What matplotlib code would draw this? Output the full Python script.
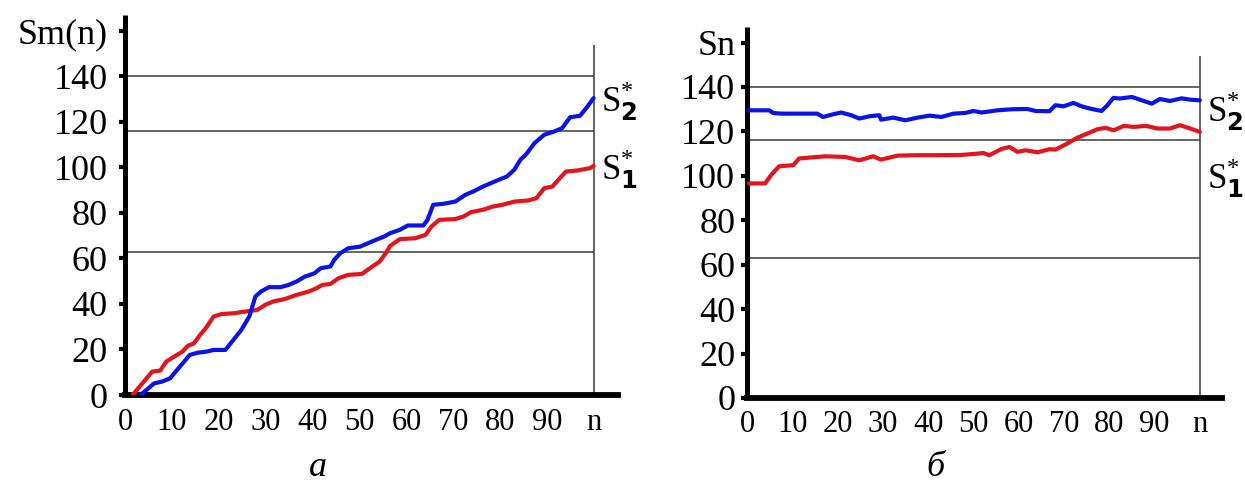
import matplotlib
matplotlib.use("Agg")
import matplotlib.pyplot as plt

plt.rcParams["font.family"] = ["Liberation Serif", "DejaVu Serif"]
plt.rcParams["mathtext.fontset"] = "custom"
plt.rcParams["mathtext.rm"] = "Liberation Serif"
plt.rcParams["mathtext.it"] = "Liberation Serif:italic"
plt.rcParams["mathtext.bf"] = "DejaVu Sans:bold"

# ---- panel (а): cumulative sums Sm(n) ----
a_blue_n = [3.3, 6.2, 7.9, 9.6, 11.7, 13.8, 15.5, 17.2, 18.9, 21.4, 23.1, 24.8, 26.5,
            27.8, 29.0, 30.7, 33.2, 34.9, 36.6, 38.3, 40.4, 41.7, 43.8, 44.6, 45.9,
            47.6, 50.1, 51.8, 53.5, 55.2, 56.5, 58.6, 60.3, 63.6, 64.5, 65.7, 67.8,
            70.4, 72.5, 74.2, 76.3, 78.0, 79.7, 81.4, 83.0, 84.3, 85.6, 87.3, 89.4,
            91.5, 93.2, 94.9, 97.0, 98.6, 99.9]
a_blue_s = [0.0, 5.1, 5.9, 7.3, 12.5, 17.6, 18.6, 19.0, 19.8, 19.8, 24.2, 28.6, 34.5,
            43.3, 45.5, 47.4, 47.4, 48.4, 49.9, 52.0, 53.5, 55.7, 56.5, 59.4, 62.3,
            64.5, 65.2, 66.7, 68.2, 69.6, 71.1, 72.6, 74.5, 74.5, 77.0, 83.6, 84.0,
            85.0, 87.9, 89.4, 91.6, 93.1, 94.6, 96.0, 99.0, 103.4, 106.0, 110.7, 114.4,
            115.8, 117.3, 122.1, 122.7, 126.8, 130.5]

a_red_n = [1.6, 3.7, 5.8, 7.5, 8.8, 10.5, 12.2, 13.4, 14.7, 16.0, 17.2, 18.9, 20.6,
           23.1, 25.7, 28.2, 29.9, 31.6, 34.1, 36.6, 39.2, 40.8, 42.1, 43.8, 45.5,
           47.6, 50.5, 52.2, 54.3, 55.6, 56.5, 58.6, 61.9, 64.1, 65.3, 67.0, 70.4,
           72.1, 73.8, 76.3, 78.4, 80.5, 83.0, 86.0, 87.7, 89.4, 91.1, 92.7, 94.0,
           96.5, 99.1, 99.9]
a_red_s = [0.0, 5.1, 10.3, 10.7, 14.7, 16.9, 19.0, 21.6, 22.7, 26.4, 29.3, 34.5, 35.6,
           35.9, 36.7, 37.4, 39.6, 41.1, 42.2, 44.0, 45.5, 46.9, 48.4, 48.8, 51.3,
           52.8, 53.2, 55.7, 58.7, 62.3, 65.5, 68.5, 68.9, 70.4, 74.0, 77.0, 77.3,
           78.4, 80.4, 81.4, 82.8, 83.6, 85.0, 85.5, 86.5, 90.9, 91.6, 95.3, 98.2,
           98.7, 99.7, 100.7]

# ---- panel (б): statistic Sn ----
b_blue_n = [0.4, 4.9, 5.8, 7.5, 15.5, 16.8, 19.0, 20.8, 23.0, 24.8, 27.0, 29.2, 29.6,
            32.3, 35.0, 37.6, 40.3, 42.9, 45.6, 48.2, 50.0, 51.8, 55.3, 58.8, 61.9,
            63.7, 66.8, 68.1, 69.9, 72.1, 73.9, 75.7, 78.3, 79.6, 80.9, 82.3, 85.0,
            87.2, 89.4, 91.2, 93.4, 96.0, 97.8, 100.0]
b_blue_s = [129.5, 129.5, 128.3, 128.0, 128.0, 126.5, 127.7, 128.5, 127.3, 125.8, 126.8,
            127.3, 125.3, 126.2, 125.0, 126.2, 127.1, 126.5, 128.0, 128.3, 129.2, 128.5,
            129.5, 130.0, 130.1, 129.2, 129.1, 131.8, 131.3, 132.8, 131.3, 130.3, 129.2,
            131.8, 135.1, 134.8, 135.5, 134.0, 132.5, 134.6, 133.7, 134.9, 134.3, 134.0]

b_red_n = [0.4, 4.0, 5.3, 7.1, 10.2, 11.5, 13.7, 17.3, 21.7, 24.8, 27.9, 29.6, 33.2,
           37.6, 42.0, 47.3, 50.9, 52.2, 53.5, 56.2, 58.0, 59.7, 61.5, 64.2, 66.8,
           68.1, 70.4, 73.0, 75.7, 77.4, 79.2, 81.0, 83.2, 85.4, 88.1, 90.7, 93.4,
           95.6, 97.3, 100.0]
b_red_s = [96.6, 96.6, 100.3, 104.3, 104.8, 107.8, 108.2, 108.8, 108.5, 107.0, 108.8,
           107.3, 109.1, 109.3, 109.3, 109.4, 110.0, 110.3, 109.3, 112.1, 113.0, 110.8,
           111.5, 110.6, 112.0, 111.8, 114.2, 117.2, 119.5, 121.0, 121.6, 120.5, 122.5,
           122.0, 122.5, 121.3, 121.3, 122.8, 121.7, 119.8]

ref_levels = [140, 116, 63]
n_end = 100
frame_top = 154
x_ticks = [0, 10, 20, 30, 40, 50, 60, 70, 80, 90]
y_ticks = [0, 20, 40, 60, 80, 100, 120, 140]
s_labels = [r"$\mathrm{S}^{*}_{\mathbf{2}}$", r"$\mathrm{S}^{*}_{\mathbf{1}}$"]
s_label_y = [129, 99]
captions = ["а", "б"]

BLUE = "#0a14e6"
RED = "#e3141c"
GRID = "#4a4a4a"

fig = plt.figure(figsize=(12.45, 5.0), dpi=100)

panels = [
    dict(rect=[125 / 1245, 0.21, 493 / 1245, 0.76], xmax=105.1, ylabel="Sm(n)",
         blue=(a_blue_n, a_blue_s), red=(a_red_n, a_red_s), ypad=8, cap_x=318 / 1245),
    dict(rect=[747 / 1245, 0.204, 475 / 1245, 0.742], xmax=104.9, ylabel="Sn",
         blue=(b_blue_n, b_blue_s), red=(b_red_n, b_red_s), ypad=4, cap_x=935 / 1245),
]

for p, cap in zip(panels, captions):
    ax = fig.add_axes(p["rect"])
    ax.set_xlim(0, p["xmax"])
    ax.set_ylim(0, 167)
    for side in ("top", "right"):
        ax.spines[side].set_visible(False)
    ax.spines["left"].set_linewidth(3.6)
    ax.spines["bottom"].set_linewidth(4.2)
    ax.spines["left"].set_capstyle("butt")

    ax.hlines(ref_levels, 0, n_end, color=GRID, lw=1.2, zorder=1)
    ax.vlines(n_end, 0, frame_top, color=GRID, lw=1.2, zorder=1)

    ax.plot(*p["red"], color=RED, lw=3.0, solid_capstyle="round", zorder=3)
    ax.plot(*p["blue"], color=BLUE, lw=3.0, solid_capstyle="round", zorder=3)

    ax.set_yticks(y_ticks + [160])
    ax.set_yticklabels([str(v) for v in y_ticks] + [p["ylabel"]], fontsize=26)
    ax.tick_params(axis="y", direction="out", length=4.5, width=3.0, pad=p["ypad"])

    ax.set_xticks(x_ticks + [n_end])
    ax.set_xticklabels([str(v) for v in x_ticks] + ["n"], fontsize=22)
    ax.tick_params(axis="x", length=0, pad=9)

    for lab, yv in zip(s_labels, s_label_y):
        ax.text(n_end + 1.5, yv, lab, fontsize=25, ha="left", va="center",
                clip_on=False)

    fig.text(p["cap_x"], 1 - 468 / 500, cap, fontsize=26, style="italic",
             ha="center", va="center")

fig.savefig("out.png", dpi=100, facecolor="white")
